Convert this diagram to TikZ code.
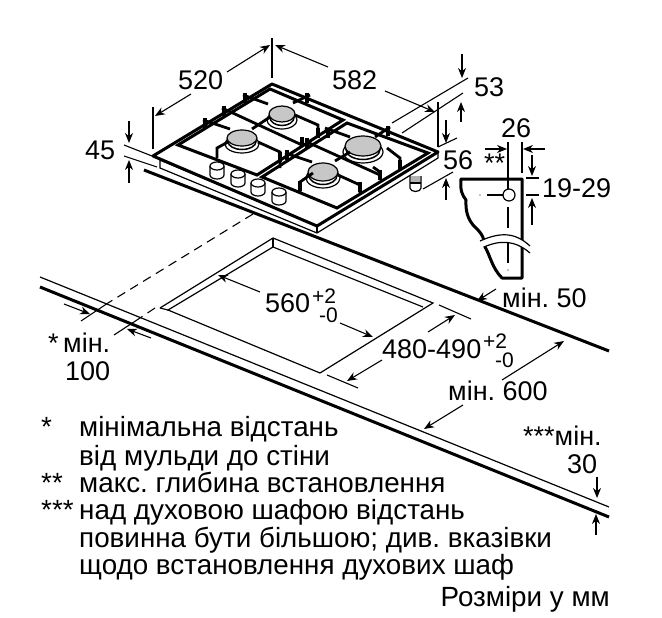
\documentclass[tikz,border=0pt]{standalone}
\usepackage{fontspec}
\setmainfont{Liberation Sans}
\usetikzlibrary{arrows.meta}
\def\burner(#1,#2)(#3,#4){
	\draw[thin line, fill=white] (#1,#2+6) ellipse (#3+2 and #4+1);
	\draw[ring line, fill=white] (#1,#2+3.5) ellipse (#3-1 and #4);
	\draw[thin line, fill=black!22] (#1,#2) ellipse (#3 and #4);
}
\def\knob(#1,#2){
	\draw[thin line, fill=white] (#1-7,#2-4) -- (#1-7,#2+5) arc (180:0:7 and 4) -- (#1+7,#2-4);
	\draw[thin line, fill=white] (#1,#2-4) ellipse (7 and 4);
}
\def\gratefoot(#1,#2){
	\draw[line width=4pt] (#1,#2) -- (#1,#2+10);
}
\tikzset{
	thin line/.style={line width=1.2pt},
	ring line/.style={line width=1.5pt},
	heavy line/.style={line width=3pt},
	bar line/.style={line width=2.8pt},
	dim line/.style={line width=1.1pt},
	dim arrow/.style={line width=1.1pt, -{Stealth[length=10pt,width=8pt]}},
	big label/.style={font=\fontsize{27}{27}\selectfont, inner sep=0pt, anchor=base west},
	text label/.style={font=\fontsize{27.8}{27.8}\selectfont, inner sep=0pt, anchor=base west},
	small label/.style={font=\fontsize{21}{21}\selectfont, inner sep=0pt, anchor=base west}
}
\begin{document}
\frenchspacing
\begin{tikzpicture}[x=1pt, y=-1pt]
	%%%%% START %%%%%
	\useasboundingbox (0,0) rectangle (662,618);

	% worktop
	\draw[heavy line] (144,170) -- (609,351);
	\draw[heavy line] (40,287) -- (609,517);
	\draw[thin line] (40,277) -- (609,507);

	% cut-out
	\draw[thin line] (160,308) -- (273,238) -- (433,303) -- (320,373) -- (168,310) -- (273,247) -- (423,307);
	\draw[thin line] (160,308) -- (168,310);
	\draw[thin line] (273,238) -- (273,247);
	\draw[dim line, dash pattern=on 9pt off 6pt] (253,214) -- (108,303);
	\draw[dim line, dash pattern=on 9pt off 6pt] (155,308) -- (140,318);

	% hob
	\draw[thin line, fill=white] (160,160) -- (160,168) -- (317,233) -- (438,158) -- (438,152) -- (317,226) -- cycle;
	\draw[heavy line, fill=white, line join=round] (153,156) -- (272,84) -- (438,152) -- (317,226) -- cycle;
	\draw[thin line] (317,226) -- (317,233);
	\draw[heavy line] (178,145) -- (270,89) -- (343,120) -- (257,175) -- cycle;
	\draw[heavy line] (347,123) -- (428,153) -- (337,208) -- (262,177) -- cycle;

	% feet and knobs
	\draw[thin line, fill=white] (410,176) -- (410,188) arc (180:0:5.5 and 3.5) -- (421,176);
	\fill[black!30] (411,176) rectangle (420,183);
	\draw[thin line] (410,183) -- (421,183);
	\knob(217,170)
	\knob(238,178)
	\knob(258,187)
	\knob(279,196)

	% burners
	\burner(282,114)(13,8)
	\burner(242,138)(15,8)
	\burner(363,146)(18,10)
	\burner(323,172)(15,9)

	% grates
	\draw[bar line] (203,120) -- (230,129);
	\draw[bar line] (222,108) -- (302,145);
	\draw[bar line] (243,95) -- (268,104);
	\draw[bar line] (310,95) -- (293,103);
	\draw[bar line] (325,128) -- (350,137);
	\draw[bar line] (307,142) -- (380,175);
	\draw[bar line] (285,153) -- (312,162);
	\draw[bar line] (390,127) -- (375,137);
	\draw[bar line] (217,158) -- (217,148) -- (228,142);
	\draw[bar line] (258,142) -- (280,152) -- (280,168);
	\draw[bar line] (252,129) -- (270,117);
	\draw[bar line] (295,115) -- (318,125) -- (318,137);
	\draw[bar line] (335,161) -- (350,152);
	\draw[bar line] (387,148) -- (400,158) -- (400,170);
	\draw[bar line] (373,167) -- (380,172) -- (380,180);
	\draw[bar line] (300,192) -- (300,182) -- (313,173);
	\draw[bar line] (338,175) -- (360,185) -- (360,193);
	\gratefoot(205,118)
	\gratefoot(224,106)
	\gratefoot(245,93)
	\gratefoot(307,93)
	\gratefoot(302,137)
	\gratefoot(280,152)
	\gratefoot(318,128)
	\gratefoot(328,128)
	\gratefoot(307,138)
	\gratefoot(287,150)
	\gratefoot(388,126)
	\gratefoot(400,160)
	\gratefoot(380,170)
	\gratefoot(360,182)
	\gratefoot(300,181)

	% hob dimensions
	\draw[dim line] (272,38) -- (272,78);
	\draw[dim line] (153,107) -- (153,149);
	\draw[dim line] (438,102) -- (438,147);
	\draw[dim arrow] (227,72) -- (270,45);
	\draw[dim arrow] (191,94) -- (155,116);
	\draw[dim arrow] (328,67) -- (275,45);
	\draw[dim arrow] (385,91) -- (435,112);
	\draw[dim line] (392,123) -- (468,78);
	\draw[dim line] (402,133) -- (463,93);
	\draw[dim arrow] (462,54) -- (462,78);
	\draw[dim arrow] (461,122) -- (461,102);
	\draw[dim line] (438,147) -- (457,138);
	\draw[dim line] (423,189) -- (453,172);
	\draw[dim arrow] (446,120) -- (446,143);
	\draw[dim arrow] (446,200) -- (446,178);
	\draw[dim line] (124,145) -- (152,156);
	\draw[dim line] (124,156) -- (157,167);
	\draw[dim arrow] (129,121) -- (129,143);
	\draw[dim arrow] (129,183) -- (129,160);

	% side profile
	\draw[heavy line, line join=round] (461,179) -- (522,179) -- (522,278) -- (502,278) .. controls (492,268) and (490,255) .. (485,247) .. controls (484,235) and (480,232) .. (473,225) .. controls (465,215) and (466,205) .. (466,200) .. controls (462,195) and (460,190) .. cycle;
	\fill[white] (480,241) .. controls (500,232) and (515,232) .. (530,246) -- (530,253) .. controls (515,240) and (500,240) .. (484,247) -- cycle;
	\draw[thin line] (480,241) .. controls (500,232) and (515,232) .. (530,246);
	\draw[thin line] (484,247) .. controls (500,240) and (515,240) .. (530,253);
	\draw[thin line, fill=white] (509,195) circle (6);
	\draw[dim line] (508,142) -- (508,189);
	\draw[dim line] (508,207) -- (508,228);
	\draw[dim line] (508,243) -- (508,263);
	\draw[dim line] (487,195) -- (503,195);
	\fill (480,195) circle (0.7);
	\fill (508,270) circle (0.7);
	\draw[dim line] (522,142) -- (522,173);
	\draw[dim arrow] (485,149) -- (507,149);
	\draw[dim arrow] (545,149) -- (523,149);
	\draw[dim line] (526,178) -- (539,178);
	\draw[dim line] (526,195) -- (539,195);
	\draw[dim arrow] (532,155) -- (532,176);
	\draw[dim arrow] (532,225) -- (532,198);

	% worktop dimensions
	\draw[dim line] (108,303) -- (81,321);
	\draw[dim line] (140,318) -- (114,335);
	\draw[dim arrow] (64,304) -- (90,314);
	\draw[dim arrow] (151,338) -- (127,329);
	\draw[dim arrow] (260,292) -- (218,275);
	\draw[dim arrow] (340,323) -- (373,337);
	\draw[dim line] (439,305) -- (471,319);
	\draw[dim line] (327,375) -- (358,388);
	\draw[dim arrow] (428,332) -- (455,315);
	\draw[dim arrow] (382,360) -- (347,381);
	\draw[dim arrow] (496,289) -- (477,301);
	\draw[dim arrow] (502,380) -- (564,341);
	\draw[dim arrow] (463,405) -- (424,429);
	\draw[dim arrow] (597,477) -- (597,498);
	\draw[dim arrow] (596,535) -- (596,514);

	% labels
	\node[big label] (width) at (178,90) {520};
	\node[big label] (depth) at (332,90) {582};
	\node[big label] (rim) at (85,160) {45};
	\node[big label] (top) at (474,96) {53};
	\node[big label] (high) at (443,169) {56};
	\node[big label] (wall) at (501,138) {26};
	\node[big label] (star) at (484,172) {**};
	\node[big label] (depthrange) at (542,197) {19-29};
	\node[big label] (cutw) at (265,312) {560};
	\node[small label] (cutwup) at (312,303) {+2};
	\node[small label] (cutwdown) at (319,322) {-0};
	\node[big label] (cutd) at (382,358) {480-490};
	\node[small label] (cutdup) at (483,348) {+2};
	\node[small label] (cutddown) at (495,367) {-0};
	\node[big label] (back) at (502,307) {мін. 50};
	\node[big label] (front) at (448,400) {мін. 600};
	\node[big label] (oven) at (523,445) {***мін.};
	\node[big label] (ovenval) at (567,473) {30};
	\node[big label] (sidestar) at (48,352) {*};
	\node[big label] (side) at (63,352) {мін.};
	\node[big label] (sideval) at (65,380) {100};

	% notes
	\node[text label] (noteA) at (41,436) {*};
	\node[text label] (noteAa) at (79,436) {мінімальна відстань};
	\node[text label] (noteAb) at (79,465) {від мульди до стіни};
	\node[text label] (noteB) at (41,492) {**};
	\node[text label] (noteBa) at (79,492) {макс. глибина встановлення};
	\node[text label] (noteC) at (41,519) {***};
	\node[text label] (noteCa) at (79,519) {над духовою шафою відстань};
	\node[text label] (noteCb) at (79,547) {повинна бути більшою; див. вказівки};
	\node[text label] (noteCc) at (79,574) {щодо встановлення духових шаф};
	\node[text label, anchor=base east] (unit) at (610,606) {Розміри у мм};

	%%%%% END %%%%%
\end{tikzpicture}
\end{document}
